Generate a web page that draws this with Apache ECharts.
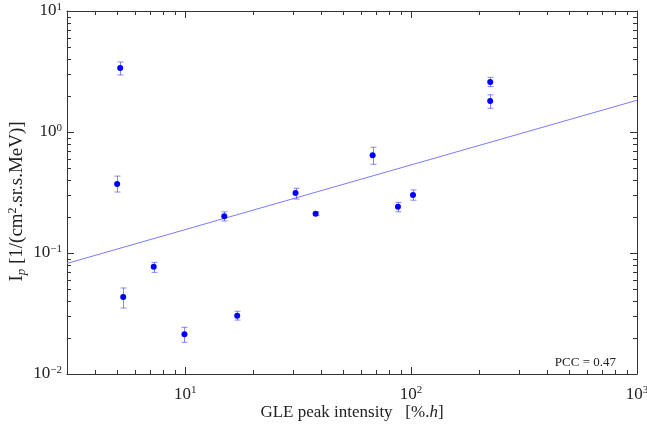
<!DOCTYPE html>
<html>
<head>
<meta charset="utf-8">
<script src="https://cdn.jsdelivr.net/npm/echarts@6/dist/echarts.min.js"></script>
<style>
html, body { margin: 0; padding: 0; background: #fff; }
#ct1 { width: 647px; height: 426px; }
</style>
</head>
<body>
<div id="ct1"></div>
<script>
// GLE peak intensity vs proton peak flux
var gleIntensity = [5.16, 5.0, 5.32, 7.26, 9.93, 17.0, 14.9, 30.8, 37.8, 67.6, 87.5, 102, 224, 224];
var peakFlux = [3.38, 0.372, 0.0433, 0.0771, 0.0213, 0.0303, 0.201, 0.313, 0.211, 0.641, 0.241, 0.301, 2.59, 1.80];
var fluxLow = [2.96, 0.319, 0.0351, 0.0692, 0.0183, 0.0279, 0.184, 0.279, 0.204, 0.541, 0.219, 0.273, 2.37, 1.57];
var fluxHigh = [3.79, 0.432, 0.0514, 0.0838, 0.0243, 0.0330, 0.219, 0.343, 0.218, 0.748, 0.262, 0.332, 2.83, 2.03];
var fitX = [3, 1000];
var fitY = [0.082, 1.83];
var xTickValues = [10, 100, 1000];
var xTickLabels = ['10{sup|1}', '10{sup|2}', '10{sup|3}'];
var yTickValues = [0.01, 0.1, 1, 10];
var yTickLabels = ['10{sup|\u22122}', '10{sup|\u22121}', '10{sup|0}', '10{sup|1}'];
var pccText = 'PCC = 0.47';

var xMin = 3, xMax = 1000, yMin = 0.01, yMax = 10;
var axisColor = '#333';
var font = '"Liberation Serif", "DejaVu Serif", serif';

function findLabel(values, labels, v) {
	for (var i = 0; i < values.length; i++) {
		if (Math.abs(Math.log10(v) - Math.log10(values[i])) < 1e-6) {
			return labels[i];
		}
	}
	return '';
}

var pointData = [];
var errData = [];
for (var i = 0; i < gleIntensity.length; i++) {
	pointData.push([gleIntensity[i], peakFlux[i]]);
	errData.push([gleIntensity[i], fluxLow[i], fluxHigh[i]]);
}
var fitData = [[fitX[0], fitY[0]], [fitX[1], fitY[1]]];

// tick positions on the log axes: [value, position on other axis, dir(0=x,1=y), major]
var tickData = [];
for (var d = 0; d <= 3; d++) {
	for (var k = 1; k <= 9; k++) {
		var v = k * Math.pow(10, d);
		if (v >= xMin && v <= xMax) tickData.push([v, yMin, 0, k === 1 ? 1 : 0]);
	}
}
for (var d2 = -2; d2 <= 1; d2++) {
	for (var k2 = 1; k2 <= 9; k2++) {
		var w = k2 * Math.pow(10, d2);
		if (w >= yMin * 0.999 && w <= yMax * 1.001) tickData.push([xMin, w, 1, k2 === 1 ? 1 : 0]);
	}
}

function renderTick(params, api) {
	var cs = params.coordSys;
	var p = api.coord([api.value(0), api.value(1)]);
	var len = api.value(3) ? 7 : 4;
	var st = { stroke: axisColor, lineWidth: 1 };
	if (api.value(2) === 0) {
		var x = Math.round(p[0]) + 0.5;
		return { type: 'group', children: [
			{ type: 'line', shape: { x1: x, y1: cs.y + cs.height, x2: x, y2: cs.y + cs.height - len }, style: st },
			{ type: 'line', shape: { x1: x, y1: cs.y, x2: x, y2: cs.y + len }, style: st }
		] };
	}
	var y = Math.round(p[1]) + 0.5;
	return { type: 'group', children: [
		{ type: 'line', shape: { x1: cs.x, y1: y, x2: cs.x + len, y2: y }, style: st },
		{ type: 'line', shape: { x1: cs.x + cs.width, y1: y, x2: cs.x + cs.width - len, y2: y }, style: st }
	] };
}

function renderErr(params, api) {
	var top = api.coord([api.value(0), api.value(2)]);
	var bot = api.coord([api.value(0), api.value(1)]);
	var x = Math.round(top[0]) + 0.5;
	var st = { stroke: 'rgba(70,70,255,0.65)', lineWidth: 1 };
	return { type: 'group', children: [
		{ type: 'line', shape: { x1: x, y1: top[1], x2: x, y2: bot[1] }, style: st },
		{ type: 'line', shape: { x1: x - 3, y1: top[1], x2: x + 3, y2: top[1] }, style: st },
		{ type: 'line', shape: { x1: x - 3, y1: bot[1], x2: x + 3, y2: bot[1] }, style: st }
	] };
}

var supRich = {
	sup: { fontSize: 11, fontFamily: font, color: '#222', verticalAlign: 'top', padding: [0, 0, 8, 0] }
};

function logAxis(pos, mn, mx, showLabel, values, labels, margin) {
	return {
		type: 'log',
		logBase: 10,
		position: pos,
		min: mn,
		max: mx,
		nameMoveOverlap: false,
		splitLine: { show: false },
		axisTick: { show: false },
		minorTick: { show: false },
		axisLine: { show: true, lineStyle: { color: axisColor, width: 1 } },
		axisLabel: {
			show: showLabel,
			showMinLabel: true,
			showMaxLabel: true,
			fontFamily: font,
			fontSize: 17,
			color: '#222',
			margin: margin,
			formatter: function (v) { return findLabel(values, labels, v); },
			rich: supRich
		}
	};
}

var xBottom = logAxis('bottom', xMin, xMax, true, xTickValues, xTickLabels, 11);
xBottom.name = 'GLE peak intensity   [%.{it|h}]';
xBottom.nameLocation = 'middle';
xBottom.nameGap = 30;
xBottom.nameTextStyle = {
	fontFamily: font, fontSize: 17, color: '#222',
	rich: { it: { fontFamily: font, fontSize: 17, fontStyle: 'italic', color: '#222' } }
};
var xTop = logAxis('top', xMin, xMax, false, xTickValues, xTickLabels, 8);

var yLeft = logAxis('left', yMin, yMax, true, yTickValues, yTickLabels, 5);
yLeft.name = 'I{sub|p} [1/(cm{sup|2}.sr.s.MeV)]';
yLeft.nameLocation = 'middle';
yLeft.nameGap = 39;
yLeft.nameTextStyle = {
	fontFamily: font, fontSize: 19, color: '#222',
	padding: [0, 18, 0, 0],
	rich: {
		sub: { fontFamily: font, fontSize: 13, fontStyle: 'italic', color: '#222', verticalAlign: 'bottom' },
		sup: { fontFamily: font, fontSize: 12, color: '#222', verticalAlign: 'top', padding: [0, 0, 9, 0] }
	}
};
var yRight = logAxis('right', yMin, yMax, false, yTickValues, yTickLabels, 8);

var option1 = {
	animation: false,
	backgroundColor: '#fff',
	grid: { left: 67, right: 10, top: 11, bottom: 52, containLabel: false, outerBoundsMode: 'none' },
	xAxis: [xBottom, xTop],
	yAxis: [yLeft, yRight],
	graphic: [{
		type: 'text',
		right: 31,
		top: 356,
		style: { text: pccText, font: '13px ' + font, fill: '#222' }
	}],
	series: [
		{
			type: 'line',
			data: fitData,
			showSymbol: false,
			lineStyle: { color: '#7b7bff', width: 1 },
			z: 2
		},
		{
			type: 'custom',
			data: errData,
			renderItem: renderErr,
			encode: { x: 0, y: [1, 2] },
			z: 3
		},
		{
			type: 'scatter',
			data: pointData,
			symbolSize: 6,
			itemStyle: { color: '#0000ff', opacity: 1 },
			z: 4
		},
		{
			type: 'custom',
			data: tickData,
			renderItem: renderTick,
			encode: { x: 0, y: 1 },
			silent: true,
			z: 5
		}
	]
};

var myChart1 = echarts.init(document.getElementById('ct1'));
myChart1.setOption(option1, true);
</script>
</body>
</html>
